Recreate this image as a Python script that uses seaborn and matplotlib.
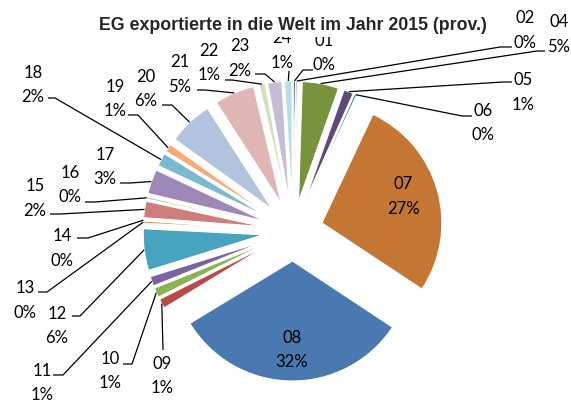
import numpy as np
import seaborn as sns
import matplotlib.pyplot as plt

# HS chapters and their share of exports (percent)
chapters = ['01', '02', '04', '05', '06', '07', '08', '09', '10', '11', '12', '13',
            '14', '15', '16', '17', '18', '19', '20', '21', '22', '23', '24']
shares = [0.3, 0.2, 4.9, 1.3, 0.3, 27.3, 32.0, 1.3, 1.3, 1.3, 5.6, 0.3,
          0.1, 2.2, 0.3, 3.3, 1.8, 1.1, 6.0, 5.4, 0.8, 1.9, 1.0]
slice_colors = ['#3D6CA6', '#C0504D', '#77933C', '#5F497A', '#31859C', '#C47634',
                '#4A78B1', '#BA4B48', '#8DB253', '#7A63A0', '#48A3BE', '#F08C3E',
                '#7D9FCF', '#CE7D7B', '#B5CC8E', '#9D88B8', '#7ABACF', '#F9AA78',
                '#B2C3DF', '#E0B6B5', '#D1DFB8', '#C6BCD7', '#B8DCE8']

title = 'EG exportierte in die Welt im Jahr 2015 (prov.)'

W, H = 571, 414

# label placement in pixels (x, y of the first line, measured from the top)
label_xy = {
    '01': (324, 40), '02': (525, 17), '04': (559, 21), '05': (523, 79), '06': (483, 110),
    '07': (403, 183), '08': (292, 337), '09': (162, 363), '10': (110, 358), '11': (42, 370),
    '12': (57, 313), '13': (25, 287), '14': (62, 235), '15': (35, 185), '16': (70, 172),
    '17': (105, 154), '18': (33, 72), '19': (115, 86), '20': (146, 76), '21': (180, 61),
    '22': (209, 50), '23': (240, 45), '24': (282, 37)}
# leader line: end point at the label and x of the elbow
leader = {
    '01': (313, 71, 303), '02': (512, 48, 500), '04': (545, 52, 537), '05': (512, 83, 503),
    '06': (472, 117, 462), '09': (163, 351, 163), '10': (123, 365, 132), '11': (53, 376, 63),
    '12': (72, 317, 80), '13': (38, 293, 47), '14': (77, 239, 88), '15': (50, 215, 60),
    '16': (85, 203, 95), '17': (120, 184, 130), '18': (48, 99, 55), '19': (128, 116, 138),
    '20': (162, 106, 172), '21': (197, 91, 205), '22': (225, 81, 232), '23': (255, 75, 265),
    '24': (289, 72, 289)}


def main() -> None:
    sns.set_theme(style='white')
    palette = sns.color_palette(slice_colors)

    fig = plt.figure(figsize=(W / 100, H / 100), dpi=100)
    ax = fig.add_axes([0, 0, 1, 1])

    wedges, _ = ax.pie(shares, colors=palette, startangle=90, counterclock=False,
                       radius=120, center=(293, H - 232), explode=[30] * len(shares),
                       wedgeprops=dict(edgecolor='white', linewidth=0.8))
    ax.set_xlim(0, W)
    ax.set_ylim(0, H)
    ax.set_aspect('equal')
    ax.axis('off')

    total = sum(shares)
    lab_font = dict(family=['Lato', 'DejaVu Sans'], fontsize=12, color='black')
    for name, val, w in zip(chapters, shares, wedges):
        tx, ty = label_xy[name]
        pct = f'{round(val / total * 100)}%'
        ax.text(tx, H - ty - 6, name, ha='center', va='baseline', zorder=5, **lab_font)
        ax.text(tx, H - ty - 30.5, pct, ha='center', va='baseline', zorder=5, **lab_font)

        if name in leader:
            # anchor on the outer arc, middle of the slice
            tm = np.deg2rad((w.theta1 + w.theta2) / 2)
            ax_, ay_ = w.center[0] + w.r * np.cos(tm), w.center[1] + w.r * np.sin(tm)
            ex, ey, bx = leader[name]
            ax.plot([ax_, bx, ex], [ay_, H - ey, H - ey], color='black', lw=0.9,
                    solid_capstyle='butt', zorder=4)

    ax.text(292.5, H - 30.5, title, ha='center', va='baseline', fontsize=12.8,
            fontweight='bold', family=['Liberation Sans', 'DejaVu Sans'],
            bbox=dict(boxstyle='square,pad=0.2', fc='white', ec='none'), zorder=10)

    fig.savefig('out.png', dpi=100, facecolor='white')


if __name__ == '__main__':
    main()
